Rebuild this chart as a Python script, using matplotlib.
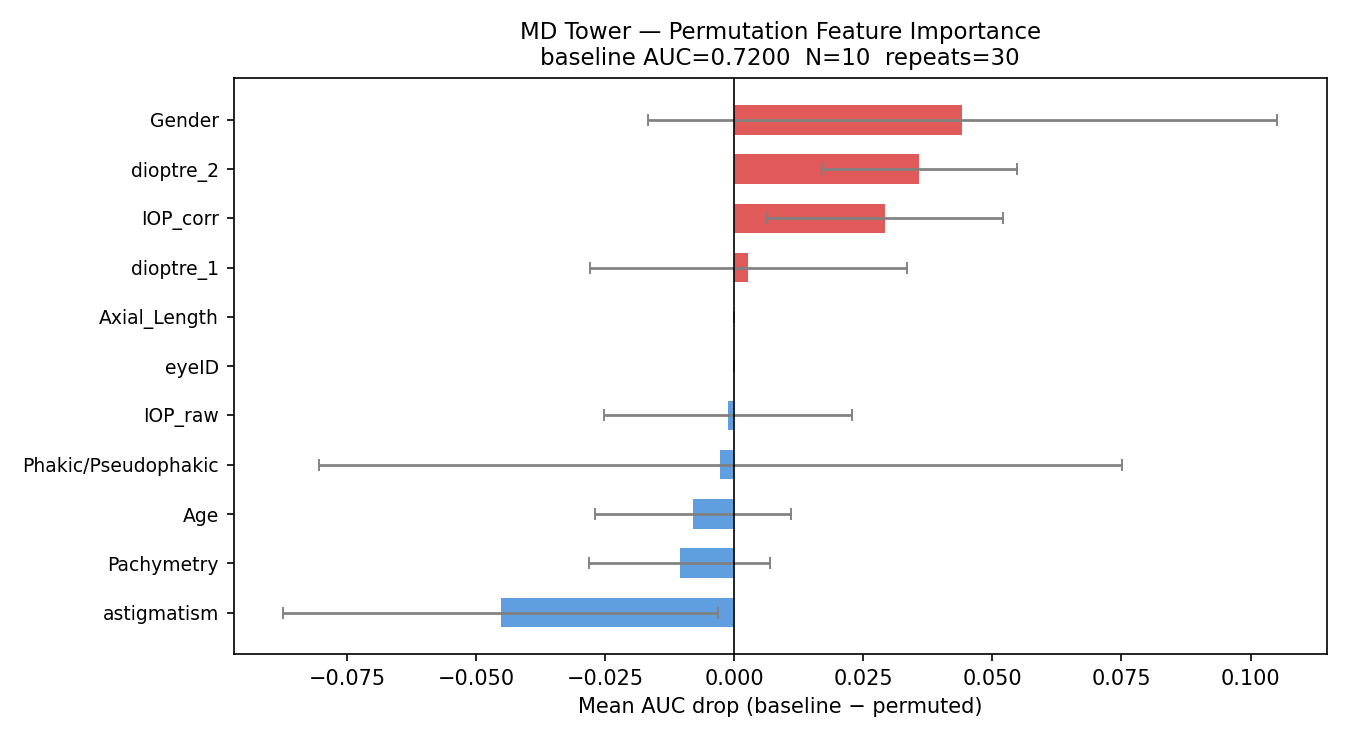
import matplotlib
matplotlib.use("Agg")
import matplotlib.pyplot as plt

features = ["Gender", "dioptre_2", "IOP_corr", "dioptre_1", "Axial_Length", "eyeID",
            "IOP_raw", "Phakic/Pseudophakic", "Age", "Pachymetry", "astigmatism"]
means = [0.0442, 0.0358, 0.0292, 0.0027, 0.0, 0.0, -0.0013, -0.0027, -0.0080, -0.0106, -0.0453]
stds = [0.0610, 0.0189, 0.0229, 0.0307, 0.0, 0.0, 0.0240, 0.0778, 0.0190, 0.0176, 0.0421]

fig, ax = plt.subplots(figsize=(9, 4.947), dpi=150)
ys = list(range(len(features)))[::-1]
colors = ["#e05a5a" if m > 0 else "#5f9fe0" for m in means]
ax.barh(ys, means, xerr=stds, height=0.6, color=colors,
        error_kw=dict(ecolor="gray", capsize=3, elinewidth=1.3, capthick=0.9))
ax.axvline(0, color="black", linewidth=0.8)
ax.set_yticks(ys)
ax.set_yticklabels(features, fontsize=9)
ax.tick_params(axis="x", labelsize=10)
ax.set_xlabel("Mean AUC drop (baseline \u2212 permuted)", fontsize=10)
ax.set_title("MD Tower \u2014 Permutation Feature Importance\nbaseline AUC=0.7200  N=10  repeats=30", fontsize=11)
ax.set_ylim(-0.85, 10.85)
plt.subplots_adjust(left=0.173, right=0.983, top=0.895, bottom=0.118)
fig.savefig("out.png")
